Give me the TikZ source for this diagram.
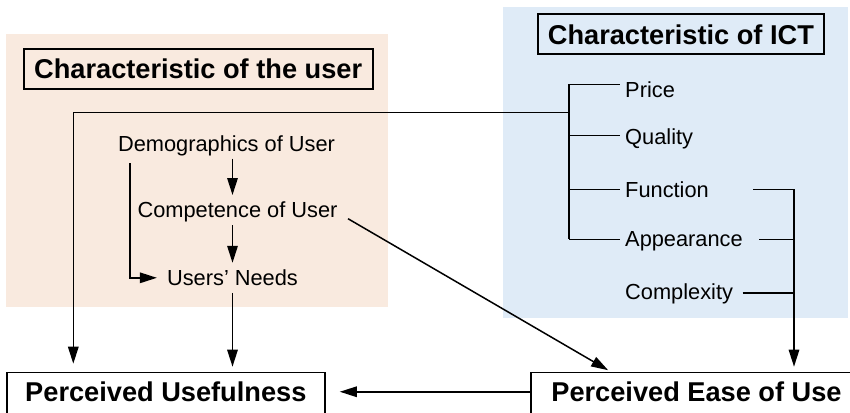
\documentclass[tikz,border=0pt]{standalone}
\usepackage{fontspec}
\setmainfont{Liberation Sans}
\usetikzlibrary{arrows.meta,calc}
\definecolor{userbg}{RGB}{249,234,223}
\definecolor{ictbg}{RGB}{223,235,247}
\tikzset{
  conn/.style={line width=1.5pt},
  arr/.style={conn,-{Triangle[length=17pt,width=10.5pt]}},
  titlebox/.style={draw,line width=1.6pt,inner sep=0pt,
    font=\fontsize{27.2}{30}\selectfont\bfseries,text height=19.6pt,text depth=0pt},
  outbox/.style={draw,fill=white,line width=1.6pt,inner sep=0pt,
    font=\fontsize{27.2}{30}\selectfont\bfseries,text height=19.6pt,text depth=3.6pt,
    minimum height=41.5pt},
  item/.style={font=\fontsize{21.8}{24}\selectfont,text height=15.6pt,text depth=0pt,
    inner xsep=3pt,inner ysep=7pt},
  leaf/.style={item,anchor=west,inner xsep=5pt}
}
\begin{document}
\begin{tikzpicture}[x=1pt,y=-1pt]
\useasboundingbox (0,0) rectangle (850,412);

% group backgrounds
\fill[userbg] (6,34) rectangle (388,307);
\fill[ictbg] (502.7,7.3) rectangle (848,317.7);

% group titles
\node[titlebox,minimum width=349pt,minimum height=40pt] (tuser) at (198.2,69) {Characteristic of the user};
\node[titlebox,minimum width=286.3pt,minimum height=40pt] (tict) at (680.9,34.3) {Characteristic of ICT};

% user factors
\node[item] (demo) at (226.5,143.5) {Demographics of User};
\node[item] (comp) at (237.5,210) {Competence of User};
\node[item] (needs) at (232.5,277.8) {Users’ Needs};

% ICT factors
\node[leaf] (price) at (620,89.7) {Price};
\node[leaf] (quality) at (620,137) {Quality};
\node[leaf] (func) at (620,189.7) {Function};
\node[leaf] (appear) at (620,238.5) {Appearance};
\node[leaf] (cplx) at (620,292) {Complexity};

% outcomes
\node[outbox,minimum width=318.3pt] (useful) at (165.85,393.25) {Perceived Usefulness};
\node[outbox,minimum width=331pt] (ease) at (696.5,393.25) {Perceived Ease of Use};

% ICT tree
\coordinate (tTop) at (569,84.3);
\coordinate (tMid) at (569,112.7);
\coordinate (bQ) at (569,135.7);
\coordinate (bF) at (569,189.3);
\coordinate (tBot) at (569,239.3);
\draw[conn] (tTop) -- (tBot);
\draw[conn] (tTop) -- (tTop -| price.west);
\draw[conn] (bQ) -- (bQ -| quality.west);
\draw[conn] (bF) -- (bF -| func.west);
\draw[conn] (tBot) -- (tBot -| appear.west);

% ICT characteristics feed perceived usefulness
\coordinate (lCorner) at (73.3,112.7);
\draw[arr,shorten >=8pt] (tMid) -- (lCorner) -- (lCorner |- useful.north);

% chain of user factors
\draw[arr] (demo.south -| needs.north) -- (comp.north -| needs.north);
\draw[arr] (comp.south -| needs.north) -- (needs.north);
\draw[arr,shorten >=5pt] (needs.south) -- (needs.south |- useful.north);
\coordinate (dL) at (130,163);
\draw[arr,shorten >=7pt] (dL) |- (needs.west);

% competence to ease of use
\coordinate (cS) at (348,218.7);
\draw[arr,shorten >=3pt] (cS) -- ($(ease.north west)+(80.5,0)$);

% function, appearance, complexity to ease of use
\coordinate (rF) at (753,189.3);
\coordinate (rV) at (794,189.3);
\coordinate (rA) at (759,239.3);
\coordinate (rC) at (742.7,293);
\draw[arr,shorten >=5pt] (rF) -- (rV) -- (rV |- ease.north);
\draw[conn] (rA) -- (rA -| rV);
\draw[conn] (rC) -- (rC -| rV);

% ease of use to usefulness
\draw[arr,shorten >=14pt] ([yshift=1.5pt]ease.west) -- ([yshift=1.5pt]useful.east);
\end{tikzpicture}
\end{document}
